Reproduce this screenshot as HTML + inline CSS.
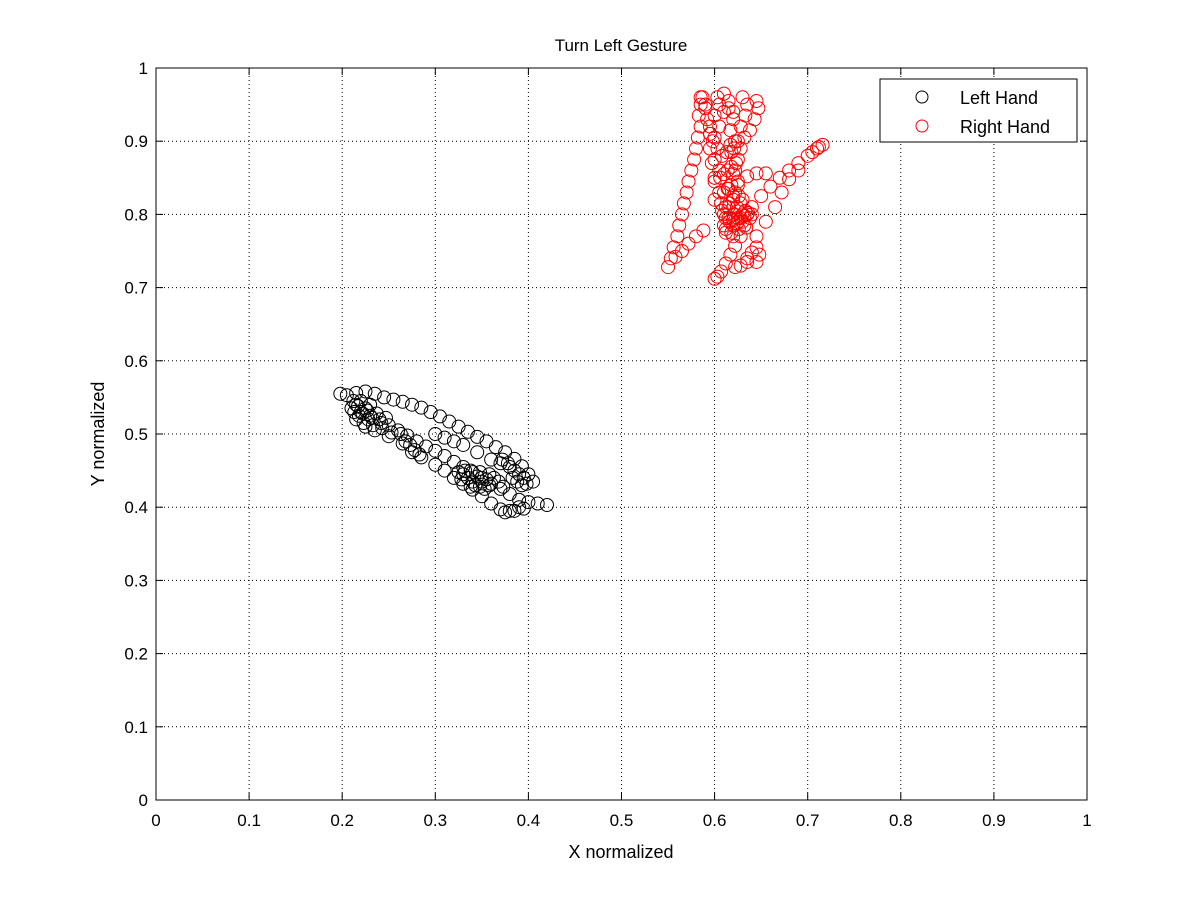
<!DOCTYPE html>
<html><head><meta charset="utf-8"><style>
body{margin:0;background:#fff;}
svg text{font-family:"Liberation Sans",sans-serif;fill:#000;}
</style></head><body>
<svg id="chart" width="1201" height="900" xmlns="http://www.w3.org/2000/svg">
<rect width="1201" height="900" fill="#fff"/>
<g id="grid"></g>
<g id="axes"></g>
<g id="marks"></g>
<text x="621" y="51" font-size="17" text-anchor="middle">Turn Left Gesture</text>
<text x="621" y="858" font-size="18" text-anchor="middle">X normalized</text>
<text transform="translate(104,434) rotate(-90)" font-size="18" text-anchor="middle">Y normalized</text>
<g>
<rect x="880" y="79" width="197" height="63" fill="#fff" stroke="#000" stroke-width="1"/>
<g>
<circle cx="922" cy="97" r="6" fill="none" stroke="#000"/>
<text x="960" y="104" font-size="18">Left Hand</text></g>
<g>
<circle cx="922" cy="126" r="6" fill="none" stroke="#f00"/>
<text x="960" y="133" font-size="18">Right Hand</text></g>
</g>
</svg>
<script>
const xTicks=[0,0.1,0.2,0.3,0.4,0.5,0.6,0.7,0.8,0.9,1];
const yTicks=[0,0.1,0.2,0.3,0.4,0.5,0.6,0.7,0.8,0.9,1];
const xTickLabels=["0","0.1","0.2","0.3","0.4","0.5","0.6","0.7","0.8","0.9","1"];
const yTickLabels=["0","0.1","0.2","0.3","0.4","0.5","0.6","0.7","0.8","0.9","1"];
const leftX=[0.198,0.205,0.215,0.225,0.235,0.245,0.255,0.265,0.275,0.285,0.295,0.305,0.315,0.325,0.335,0.345,0.355,0.365,0.375,0.385,0.393,0.4,0.405,
0.21,0.22,0.23,0.24,0.25,0.26,0.27,0.28,0.29,0.3,0.31,0.32,0.33,0.34,0.35,0.36,0.37,0.38,0.39,0.4,0.41,0.42,
0.215,0.225,0.235,0.25,0.265,0.275,0.285,0.3,0.31,0.32,0.33,0.34,0.35,0.36,0.37,0.375,0.385,0.395,
0.215,0.22,0.225,0.23,0.218,0.228,0.335,0.34,0.345,0.35,0.355,0.33,0.38,0.385,0.39,0.395,
0.3,0.31,0.32,0.33,0.345,0.36,0.37,
0.212,0.217,0.222,0.227,0.232,0.237,0.242,0.247,0.213,0.223,0.233,0.243,0.253,0.263,0.268,0.273,0.278,0.283,
0.325,0.332,0.338,0.343,0.348,0.353,0.358,0.328,0.338,0.348,0.358,0.363,0.368,0.373,0.383,0.388,0.393,0.398,0.378,0.372,0.38,0.39];
const leftY=[0.555,0.553,0.556,0.558,0.555,0.55,0.547,0.544,0.54,0.536,0.53,0.524,0.517,0.51,0.503,0.496,0.49,0.482,0.475,0.466,0.456,0.445,0.435,
0.535,0.53,0.525,0.52,0.512,0.505,0.498,0.49,0.483,0.477,0.47,0.462,0.455,0.448,0.44,0.432,0.425,0.418,0.41,0.407,0.405,0.403,
0.52,0.51,0.505,0.497,0.487,0.475,0.468,0.458,0.45,0.44,0.432,0.424,0.415,0.405,0.397,0.393,0.395,0.398,
0.54,0.545,0.535,0.54,0.525,0.52,0.44,0.435,0.442,0.435,0.438,0.445,0.455,0.45,0.445,0.44,
0.5,0.495,0.49,0.485,0.475,0.465,0.46,
0.545,0.538,0.528,0.532,0.522,0.528,0.515,0.522,0.53,0.515,0.512,0.508,0.502,0.5,0.49,0.485,0.478,0.472,
0.448,0.45,0.428,0.43,0.428,0.425,0.43,0.438,0.45,0.448,0.445,0.44,0.435,0.428,0.44,0.435,0.43,0.432,0.46,0.465,0.395,0.4];
const rightX=[0.55,0.553,0.556,0.56,0.562,0.565,0.567,0.57,0.572,0.575,0.578,0.58,0.582,0.585,0.583,0.585,0.587,
0.558,0.565,0.572,0.58,0.588,
0.603,0.61,0.605,0.6,0.605,0.6,0.603,0.6,0.605,0.6,0.605,0.607,0.61,0.615,0.62,0.617,0.622,0.618,0.623,0.62,0.625,0.62,0.615,0.63,0.635,0.633,0.628,0.632,0.628,0.625,0.645,0.647,0.643,0.638,0.59,0.592,0.595,0.595,0.597,0.6,0.6,
0.615,0.62,0.625,0.63,0.635,0.625,0.62,0.61,0.63,0.612,0.638,0.633,
0.632,0.628,0.622,0.617,0.612,0.607,0.6,0.603,
0.635,0.64,0.645,0.648,0.645,0.635,0.628,0.622,
0.64,0.65,0.66,0.67,0.68,0.69,0.7,0.71,0.716,0.712,0.705,
0.645,0.655,0.665,0.672,0.68,0.69,0.615,0.625,0.635,0.645,0.655,
0.608,0.612,0.616,0.62,0.624,0.628,0.61,0.614,0.618,0.622,0.626,0.63,0.606,0.61,0.614,0.618,0.622,0.612,0.616,0.62,0.624,0.628,0.632,0.636,0.64,0.618,0.626,0.634,0.612,0.62,0.608,0.613,0.617,0.621,0.625,0.61,0.615,0.62,0.585,0.59,0.595,0.598];
const rightY=[0.728,0.74,0.755,0.77,0.785,0.8,0.815,0.83,0.845,0.86,0.875,0.89,0.905,0.92,0.935,0.95,0.96,
0.742,0.75,0.76,0.77,0.778,
0.96,0.965,0.95,0.935,0.92,0.905,0.89,0.875,0.86,0.845,0.83,0.815,0.8,0.945,0.93,0.915,0.9,0.885,0.87,0.855,0.84,0.825,0.81,0.96,0.95,0.935,0.92,0.905,0.89,0.875,0.955,0.945,0.93,0.915,0.95,0.93,0.91,0.89,0.87,0.85,0.82,
0.795,0.8,0.795,0.8,0.8,0.79,0.785,0.785,0.79,0.78,0.795,0.805,
0.785,0.77,0.757,0.745,0.733,0.722,0.712,0.715,
0.74,0.748,0.755,0.745,0.735,0.735,0.73,0.728,
0.81,0.825,0.838,0.85,0.86,0.87,0.88,0.89,0.895,0.892,0.885,
0.77,0.79,0.81,0.83,0.848,0.86,0.835,0.845,0.852,0.856,0.856,
0.805,0.81,0.815,0.82,0.81,0.815,0.83,0.835,0.84,0.83,0.825,0.82,0.85,0.855,0.86,0.865,0.86,0.795,0.79,0.792,0.788,0.795,0.798,0.802,0.8,0.775,0.78,0.782,0.775,0.77,0.88,0.885,0.895,0.89,0.9,0.94,0.955,0.94,0.96,0.945,0.92,0.9];

const L=156,R=1087,T=68,B=800;
const sx=v=>L+v*(R-L), sy=v=>B-v*(B-T);
const NS="http://www.w3.org/2000/svg";
function mk(tag,attrs,parent){const e=document.createElementNS(NS,tag);for(const k in attrs)e.setAttribute(k,attrs[k]);parent.appendChild(e);return e;}
const grid=document.getElementById('grid'),axes=document.getElementById('axes'),marks=document.getElementById('marks');
xTicks.forEach((t,i)=>{const x=sx(t);
 if(i>0&&i<xTicks.length-1){const g=mk('line',{x1:x,x2:x,y1:T,y2:B,stroke:'#000','stroke-dasharray':'1,3'},grid);
 
 }
 mk('line',{x1:x,x2:x,y1:B,y2:B-7,stroke:'#000'},axes);
 mk('line',{x1:x,x2:x,y1:T,y2:T+7,stroke:'#000'},axes);
 const tx=mk('text',{x:x,y:B+26,'font-size':17,'text-anchor':'middle'},axes);tx.textContent=xTickLabels[i];
 
 
});
yTicks.forEach((t,i)=>{const y=sy(t);
 if(i>0&&i<yTicks.length-1){const g=mk('line',{x1:L,x2:R,y1:y,y2:y,stroke:'#000','stroke-dasharray':'1,3'},grid);
 
 }
 mk('line',{x1:L,x2:L+7,y1:y,y2:y,stroke:'#000'},axes);
 mk('line',{x1:R,x2:R-7,y1:y,y2:y,stroke:'#000'},axes);
 const tx=mk('text',{x:L-8,y:y+6,'font-size':17,'text-anchor':'end'},axes);tx.textContent=yTickLabels[i];
 
 
});
const frame=mk('rect',{x:L,y:T,width:R-L,height:B-T,fill:'none',stroke:'#000'},axes);


leftX.forEach((v,i)=>{const c=mk('circle',{cx:sx(v),cy:sy(leftY[i]),r:6.5,fill:'none',stroke:'#000'},marks);
 
 });
rightX.forEach((v,i)=>{const c=mk('circle',{cx:sx(v),cy:sy(rightY[i]),r:6.5,fill:'none',stroke:'#f00'},marks);
 
 });
</script>
</body></html>
